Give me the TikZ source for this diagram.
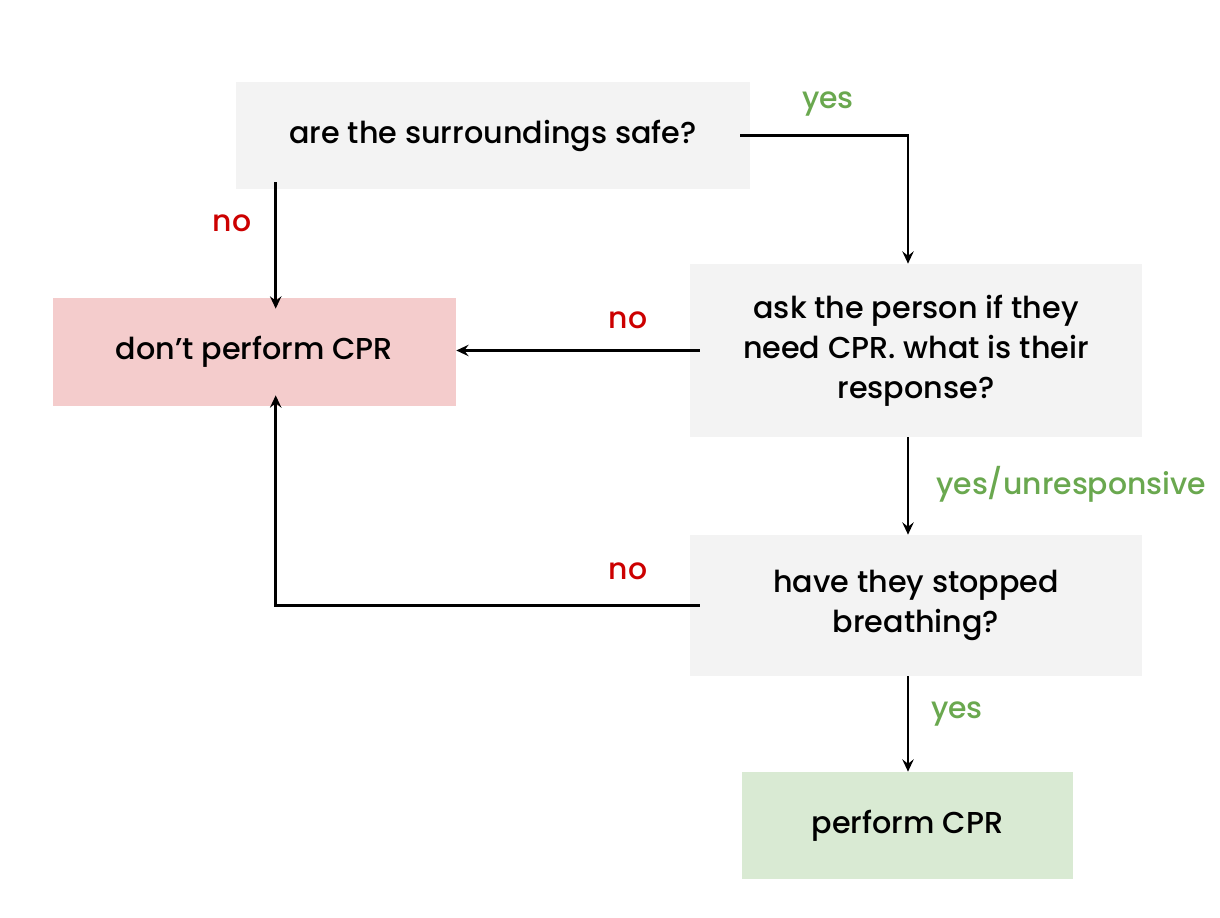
\documentclass[tikz,border=0pt]{standalone}
\usepackage{fontspec}
\setmainfont{Poppins Medium}
\usetikzlibrary{positioning,arrows.meta}
\definecolor{boxgray}{HTML}{F3F3F3}
\definecolor{boxred}{HTML}{F4CCCC}
\definecolor{boxgreen}{HTML}{D9EAD3}
\definecolor{yesgreen}{HTML}{6AA84F}
\definecolor{nored}{HTML}{CC0000}
\begin{document}
\begin{tikzpicture}[x=0.02cm, y=-0.02cm,
  box/.style = {fill=#1, inner sep=0pt, align=center, font=\fontsize{17.2}{22.7}\selectfont},
  arr/.style = {line width=1.5pt, -{Stealth[length=7pt, width=6.5pt, inset=2.5pt]}},
  yes/.style = {text=yesgreen, font=\fontsize{17}{20}\selectfont},
  no/.style  = {text=nored, font=\fontsize{17}{20}\selectfont}]
\useasboundingbox (0,0) rectangle (1220,918);

\node[box=boxgray,  minimum width=10.28cm, minimum height=2.14cm] (safe)   at (493,135.5) {are the surroundings safe?};
\node[box=boxred,   minimum width=8.06cm,  minimum height=2.16cm] (dont)   at (254.5,352) {don’t perform CPR};
\node[box=boxgray,  minimum width=9.04cm,  minimum height=3.46cm] (ask)    at (916,350.5) {ask the person if they\\need CPR. what is their\\response?};
\node[box=boxgray,  minimum width=9.04cm,  minimum height=2.82cm] (breath) at (916,605.5) {have they stopped\\breathing?};
\node[box=boxgreen, minimum width=6.62cm,  minimum height=2.14cm] (cpr)    at (907.5,825.5) {perform CPR};

\draw[arr] ([xshift=-0.2cm]safe.east) -| ([xshift=-0.16cm]ask.north);
\draw[arr] ([shift={(0.8cm,0.14cm)}]safe.south west) -- ([shift={(0.8cm,-0.22cm)}]safe.south west |- dont.north);
\draw[arr] ([xshift=0.2cm]ask.west) -- (ask.west -| dont.east);
\draw[arr] ([xshift=-0.16cm]ask.south) -- ([xshift=-0.16cm]breath.north);
\draw[arr] ([xshift=0.2cm]breath.west) -| ([shift={(0.8cm,0.22cm)}]safe.south west |- dont.south);
\draw[arr] ([xshift=-0.16cm]breath.south) -- ([xshift=-0.16cm]breath.south |- cpr.north);

\node[yes] (l1) at (828,104) {yes};
\node[no]  (l2) at (232,223) {no};
\node[no]  (l3) at (628,320) {no};
\node[yes, anchor=west] (l4) at (930,484) {yes/unresponsive};
\node[no]  (l5) at (628,571) {no};
\node[yes] (l6) at (957,714) {yes};
\end{tikzpicture}
\end{document}
